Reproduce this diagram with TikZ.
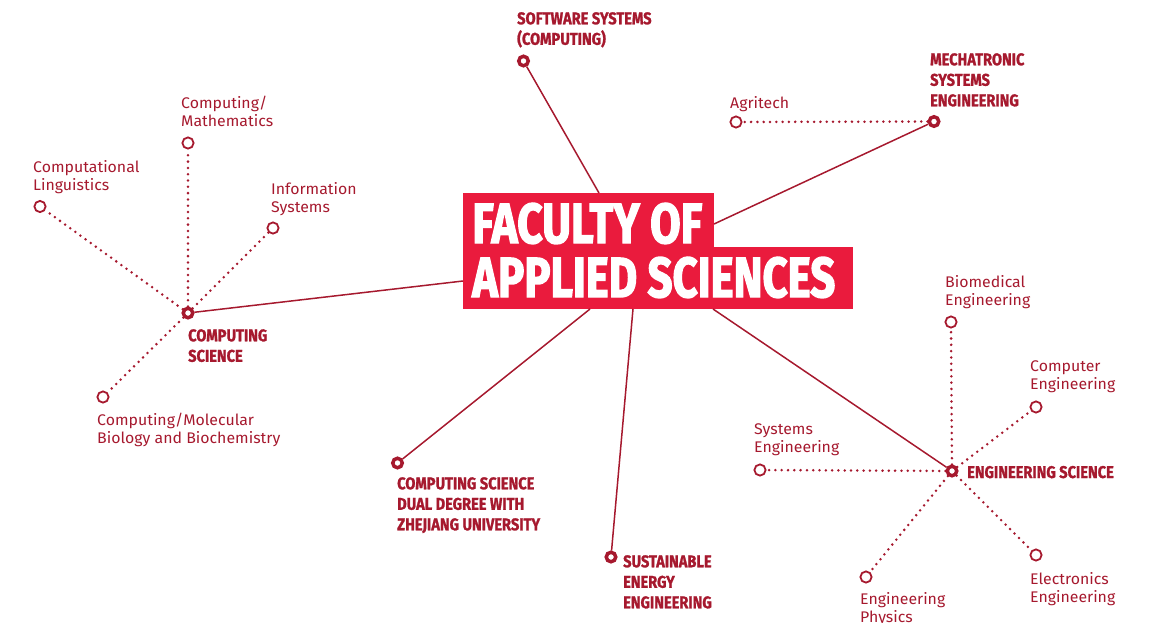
\documentclass[tikz,border=0pt]{standalone}
\usepackage{fontspec}
\usepackage{graphicx}
\setmainfont{Fira Sans}[FakeStretch=1.03]
\newfontfamily\headfont[FakeStretch=0.86,FakeBold=1.2]{Fira Sans}
\newfontfamily\titlefont[FakeBold=2.6]{Fira Sans}
\definecolor{sfured}{HTML}{A6192E}
\definecolor{titlered}{HTML}{EA1B3D}
\tikzset{
  hub/.style={circle, draw=sfured, line width=3.5pt, fill=white, minimum size=9.5pt, inner sep=0pt},
  leaf/.style={circle, draw=sfured, line width=1.8pt, fill=white, minimum size=11.2pt, inner sep=0pt},
  conn/.style={draw=sfured, line width=1.5pt},
  dotconn/.style={draw=sfured, line width=2.8pt, line cap=round, dash pattern=on 0pt off 6.3pt},
  lab/.style={anchor=north west, inner sep=0pt, text=sfured, align=left, font={\fontsize{15.4}{18}\selectfont}},
  head/.style={anchor=north west, inner sep=0pt, text=sfured, align=left, font={\headfont\bfseries\fontsize{17}{20.5}\selectfont}},
  titlebox/.style={fill=titlered, draw=none, inner sep=0pt, anchor=north west},
  titletext/.style={anchor=base west, inner sep=0pt, text=white, font=\titlefont\bfseries},
}
\begin{document}
\begin{tikzpicture}[x=1pt, y=-1pt]
\useasboundingbox (0,0) rectangle (1152,622);

% title
\node[titlebox, minimum width=251pt, minimum height=54pt] (ttop) at (463,193) {};
\node[titlebox, minimum width=390pt, minimum height=62pt] (tbot) at (463,247) {};
\node[titletext] (tline1) at (472,243) {\resizebox{230pt}{40pt}{FACULTY OF}};
\node[titletext] (tline2) at (472,297) {\resizebox{363pt}{40pt}{APPLIED SCIENCES}};

% connection points on the title box
\coordinate (eSW) at (599,193);
\coordinate (eME) at (714,224);
\coordinate (eCS) at (463,281);
\coordinate (eDD) at (590,309);
\coordinate (eSE) at (633,309);
\coordinate (eES) at (713,309);

% hubs
\node[hub] (cs) at (188,313) {};
\node[hub] (sw) at (523.5,61) {};
\node[hub] (me) at (934,121.5) {};
\node[hub] (es) at (952,471) {};
\node[hub] (dd) at (397.5,463) {};
\node[hub] (se) at (611,557) {};

% leaves
\node[leaf] (cm) at (188,143) {};
\node[leaf] (cl) at (40,206.5) {};
\node[leaf] (is) at (273,228) {};
\node[leaf] (mb) at (103,397) {};
\node[leaf] (ag) at (736,122) {};
\node[leaf] (bm) at (951,322) {};
\node[leaf] (ce) at (1036,407) {};
\node[leaf] (sy) at (760,470) {};
\node[leaf] (el) at (1036,555) {};
\node[leaf] (ep) at (866,577) {};

% solid connectors
\draw[conn] (sw) -- (eSW);
\draw[conn] (me) -- (eME);
\draw[conn] (cs) -- (eCS);
\draw[conn] (dd) -- (eDD);
\draw[conn] (se) -- (eSE);
\draw[conn] (es) -- (eES);

% dotted connectors
\draw[dotconn] (cs) -- (cm);
\draw[dotconn] (cs) -- (cl);
\draw[dotconn] (cs) -- (is);
\draw[dotconn] (cs) -- (mb);
\draw[dotconn] (me) -- (ag);
\draw[dotconn] (es) -- (bm);
\draw[dotconn] (es) -- (ce);
\draw[dotconn] (es) -- (sy);
\draw[dotconn] (es) -- (el);
\draw[dotconn] (es) -- (ep);

% heading labels
\node[head] (lcs) at (188,329) {COMPUTING\\SCIENCE};
\node[head] (lsw) at (517,12) {SOFTWARE SYSTEMS\\(COMPUTING)};
\node[head] (lme) at (930,53) {MECHATRONIC\\SYSTEMS\\ENGINEERING};
\node[head] (ldd) at (397,477) {COMPUTING SCIENCE\\DUAL DEGREE WITH\\ZHEJIANG UNIVERSITY};
\node[head] (lse) at (623,555) {SUSTAINABLE\\ENERGY\\ENGINEERING};
\node[head, anchor=base west] (les) at (967,478) {ENGINEERING SCIENCE};

% leaf labels
\node[lab] (lcm) at (181,96) {Computing/\\Mathematics};
\node[lab] (lcl) at (33,160) {Computational\\Linguistics};
\node[lab] (lis) at (271,182) {Information\\Systems};
\node[lab] (lmb) at (97,413) {Computing/Molecular\\Biology and Biochemistry};
\node[lab] (lag) at (730,96) {Agritech};
\node[lab] (lbm) at (945,275) {Biomedical\\Engineering};
\node[lab] (lce) at (1030,360) {Computer\\Engineering};
\node[lab] (lsy) at (754,423) {Systems\\Engineering};
\node[lab] (lel) at (1030,572) {Electronics\\Engineering};
\node[lab] (lep) at (860,592) {Engineering\\Physics};
\end{tikzpicture}
\end{document}
